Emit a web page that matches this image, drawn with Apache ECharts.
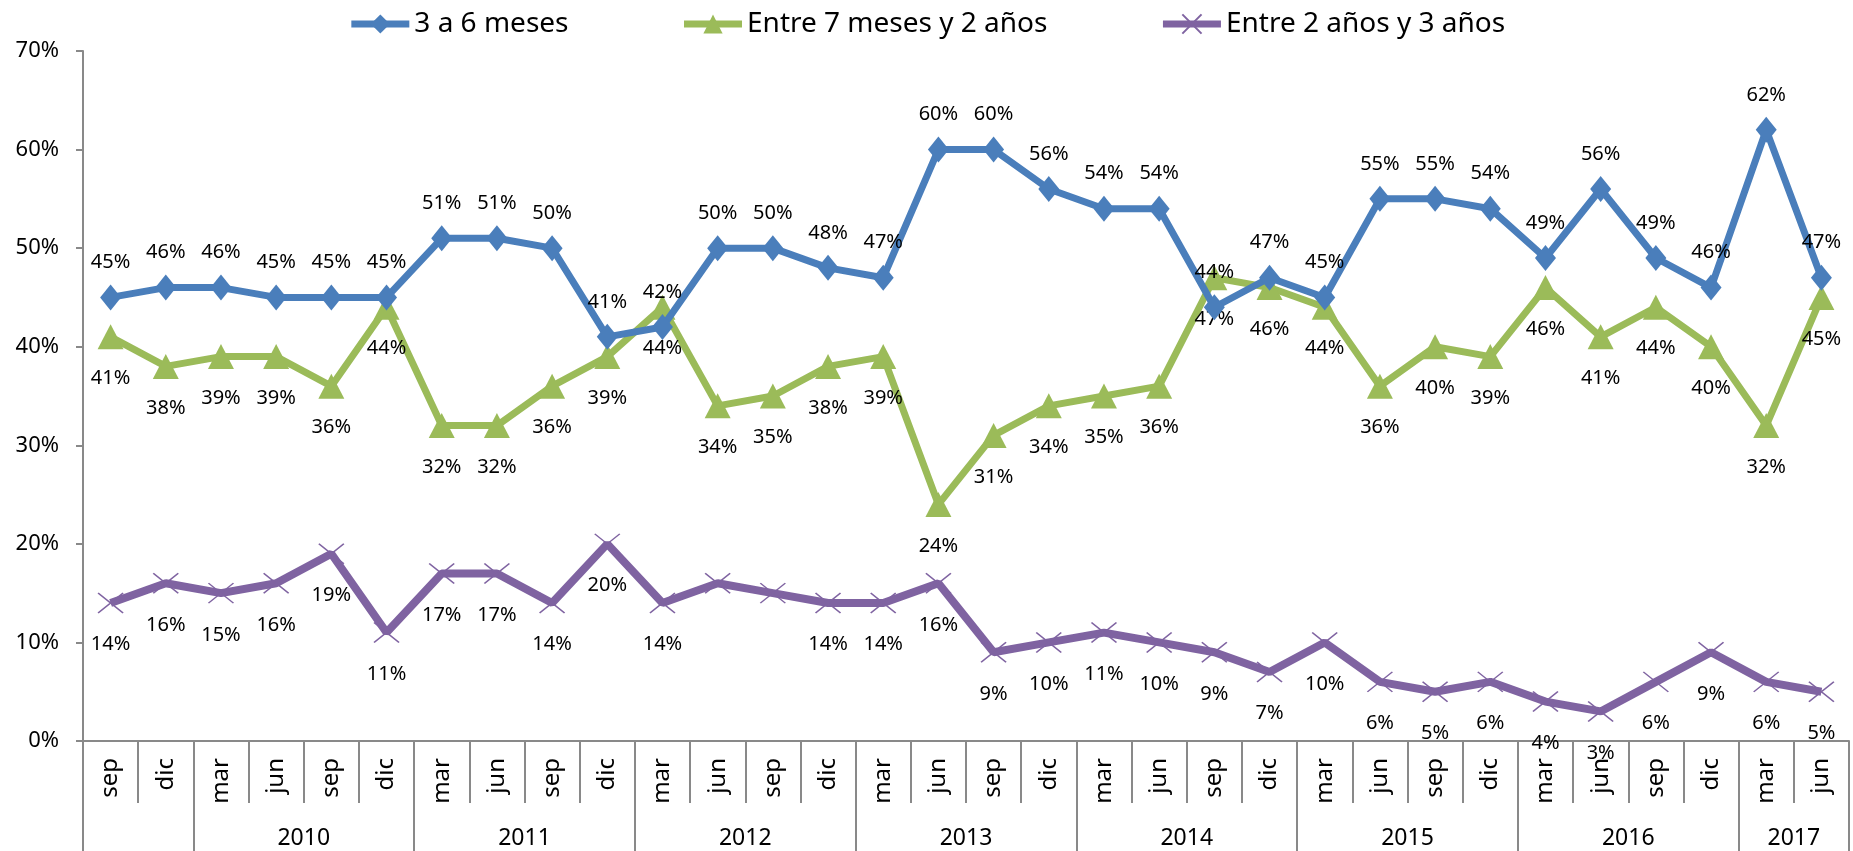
<!DOCTYPE html>
<html>
<head>
<meta charset="utf-8">
<title>Antigüedad</title>
<script src="https://cdn.jsdelivr.net/npm/echarts@6/dist/echarts.min.js"></script>
<style>
	html, body { margin: 0; padding: 0; background: #fff; }
	#chart { width: 1853px; height: 851px; }
</style>
</head>
<body>
<div id="chart"></div>
<script>
// categories (trimestres) and the year groups below them
var months = ['sep', 'dic', 'mar', 'jun', 'sep', 'dic',
	'mar', 'jun', 'sep', 'dic', 'mar', 'jun', 'sep', 'dic',
	'mar', 'jun', 'sep', 'dic', 'mar', 'jun', 'sep', 'dic',
	'mar', 'jun', 'sep', 'dic', 'mar', 'jun', 'sep', 'dic',
	'mar', 'jun'];
var yearNames = ['', '2010', '2011', '2012', '2013', '2014', '2015', '2016', '2017'];
var yearBounds = [0, 2, 6, 10, 14, 18, 22, 26, 30, 32];

var seriesNames = ['3 a 6 meses', 'Entre 7 meses y 2 años', 'Entre 2 años y 3 años'];
var meses3a6 = [45, 46, 46, 45, 45, 45, 51, 51, 50, 41, 42, 50, 50, 48, 47, 60,
	60, 56, 54, 54, 44, 47, 45, 55, 55, 54, 49, 56, 49, 46, 62, 47];
var meses7a2 = [41, 38, 39, 39, 36, 44, 32, 32, 36, 39, 44, 34, 35, 38, 39, 24,
	31, 34, 35, 36, 47, 46, 44, 36, 40, 39, 46, 41, 44, 40, 32, 45];
var anos2a3 = [14, 16, 15, 16, 19, 11, 17, 17, 14, 20, 14, 16, 15, 14, 14, 16,
	9, 10, 11, 10, 9, 7, 10, 6, 5, 6, 4, 3, 6, 9, 6, 5];
// points of the purple line whose label is not shown in the original
var hiddenLabels = [11, 12];

var yTicks = { min: 0, max: 70, step: 10 };

var gray = '#898989';
var font = 'Noto Sans';

var yearLabelPos = [];
for (var i = 0; i < yearBounds.length - 1; i++) {
	yearLabelPos.push((yearBounds[i] + yearBounds[i + 1]) / 2);
}

var purpleData = anos2a3.map(function(v, i) {
	if (hiddenLabels.indexOf(i) >= 0) {
		return { value: v, label: { show: false } };
	}
	return v;
});

var labelStyle = function(pos, dist) {
	return {
		show: true,
		position: pos,
		distance: dist,
		formatter: '{c}%',
		color: '#000',
		fontFamily: font,
		fontSize: 20
	};
};

var chart = echarts.init(document.getElementById('chart'));
var option = {
	animation: false,
	textStyle: { fontFamily: font },
	legend: {
		top: 5,
		left: 'center',
		itemWidth: 58,
		itemHeight: 24,
		itemGap: 112,
		lineStyle: { width: 7 },
		textStyle: { fontSize: 28, color: '#000', fontFamily: font },
		data: seriesNames
	},
	grid: {
		left: 83,
		right: 4,
		top: 51,
		bottom: 110
	},
	xAxis: [
		{
			type: 'category',
			data: months,
			boundaryGap: true,
			axisLine: { lineStyle: { color: gray, width: 2 } },
			axisTick: {
				show: true,
				interval: 0,
				length: 62,
				lineStyle: { color: gray, width: 2 }
			},
			axisLabel: {
				interval: 0,
				rotate: 90,
				margin: 17,
				fontSize: 24,
				color: '#000',
				fontFamily: font
			},
			splitLine: { show: false }
		},
		{
			type: 'value',
			min: 0,
			max: 32,
			position: 'bottom',
			axisLine: { show: false },
			axisTick: {
				show: true,
				customValues: yearBounds,
				length: 110,
				lineStyle: { color: gray, width: 2 }
			},
			axisLabel: {
				customValues: yearLabelPos,
				margin: 86,
				fontSize: 23,
				color: '#000',
				fontFamily: font,
				formatter: function(v) {
					var k = yearLabelPos.indexOf(v);
					return k >= 0 ? yearNames[k] : '';
				}
			},
			splitLine: { show: false }
		}
	],
	yAxis: {
		type: 'value',
		min: yTicks.min,
		max: yTicks.max,
		interval: yTicks.step,
		axisLine: { show: true, lineStyle: { color: gray, width: 2 } },
		axisTick: { show: true, length: 7, lineStyle: { color: gray, width: 2 } },
		axisLabel: {
			formatter: '{value}%',
			margin: 24,
			fontSize: 22,
			color: '#000',
			fontFamily: font
		},
		splitLine: { show: false }
	},
	series: [
		{
			name: seriesNames[0],
			type: 'line',
			data: meses3a6,
			symbol: 'diamond',
			symbolSize: [21, 26],
			showAllSymbol: true,
			lineStyle: { color: '#4a7ebb', width: 7 },
			itemStyle: { color: '#4a7ebb' },
			label: labelStyle('top', 12),
			z: 3
		},
		{
			name: seriesNames[1],
			type: 'line',
			data: meses7a2,
			symbol: 'triangle',
			symbolSize: [26, 25],
			showAllSymbol: true,
			lineStyle: { color: '#9bbb59', width: 7 },
			itemStyle: { color: '#9bbb59' },
			label: labelStyle('bottom', 19),
			z: 2
		},
		{
			name: seriesNames[2],
			type: 'line',
			data: purpleData,
			symbol: 'path://M0,0L10,8M10,0L0,8',
			symbolSize: [25, 20],
			showAllSymbol: true,
			lineStyle: { color: '#7f63a1', width: 8 },
			itemStyle: { color: '#7f63a1', borderColor: '#7f63a1', borderWidth: 1.5 },
			label: labelStyle('bottom', 21),
			z: 2
		}
	]
};
chart.setOption(option);
window.onresize = chart.resize;
</script>
</body>
</html>
